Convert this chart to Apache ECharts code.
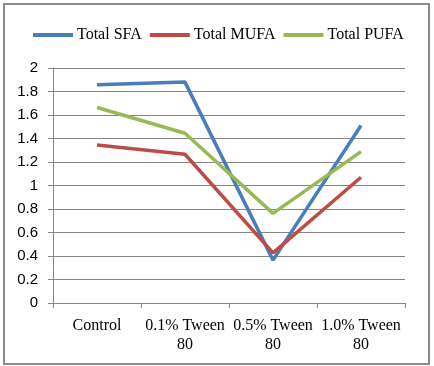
<!DOCTYPE html>
<html><head><meta charset="utf-8">
<script src="https://cdn.jsdelivr.net/npm/echarts@6/dist/echarts.min.js"></script>
<style>html,body{margin:0;padding:0;background:#fff}#c{width:434px;height:366px}
#frame{position:absolute;left:3px;top:3px;width:423px;height:358px;border:2px solid #8c8c8c;pointer-events:none}</style>
</head><body><div id="c"></div><div id="frame"></div>
<script>
const categories = ['Control', '0.1% Tween 80', '0.5% Tween 80', '1.0% Tween 80'];
const seriesNames = ['Total SFA', 'Total MUFA', 'Total PUFA'];
const sfa = [1.857, 1.88, 0.365, 1.51];
const mufa = [1.345, 1.266, 0.427, 1.07];
const pufa = [1.664, 1.445, 0.763, 1.288];
const yTicks = [0, 0.2, 0.4, 0.6, 0.8, 1, 1.2, 1.4, 1.6, 1.8, 2];
const colors = ['#4A7EBB', '#BE4B48', '#98B954'];

const chart = echarts.init(document.getElementById('c'));
const values = [sfa, mufa, pufa];
chart.setOption({
  animation: false,
  color: colors,
  legend: {
    top: 22, left: 28,
    itemWidth: 40, itemHeight: 4, itemGap: 8,
    icon: 'rect',
    textStyle: {fontFamily: 'Liberation Serif, DejaVu Serif, serif', fontSize: 16, color: '#000', padding: [0,0,0,-1]},
    data: seriesNames
  },
  grid: {left: 53, right: 29, top: 68, bottom: 63},
  xAxis: {
    type: 'category', data: categories, boundaryGap: true,
    axisLine: {lineStyle: {color: '#868686', width: 1}},
    axisTick: {show: true, length: 5, lineStyle: {color: '#868686'}},
    axisLabel: {
      interval: 0, hideOverlap: false,
      margin: 13, color: '#000', fontSize: 16, lineHeight: 19,
      fontFamily: 'Liberation Serif, DejaVu Serif, serif',
      formatter: v => v.replace(/ (\S+)$/, '\n$1')
    }
  },
  yAxis: {
    type: 'value', min: yTicks[0], max: yTicks[yTicks.length-1], interval: 0.2,
    axisLine: {show: true, lineStyle: {color: '#868686'}},
    axisTick: {show: true, length: 5, lineStyle: {color: '#868686'}},
    splitLine: {lineStyle: {color: '#868686', width: 1}},
    axisLabel: {margin: 15, color: '#000', fontSize: 15, fontFamily: 'Liberation Sans, Carlito, sans-serif',
      formatter: v => String(Math.round(v*10)/10)}
  },
  series: seriesNames.map((n, i) => ({
    name: n, type: 'line', data: values[i], symbol: 'none',
    lineStyle: {width: 3.5, color: colors[i]}
  }))
});
</script></body></html>
